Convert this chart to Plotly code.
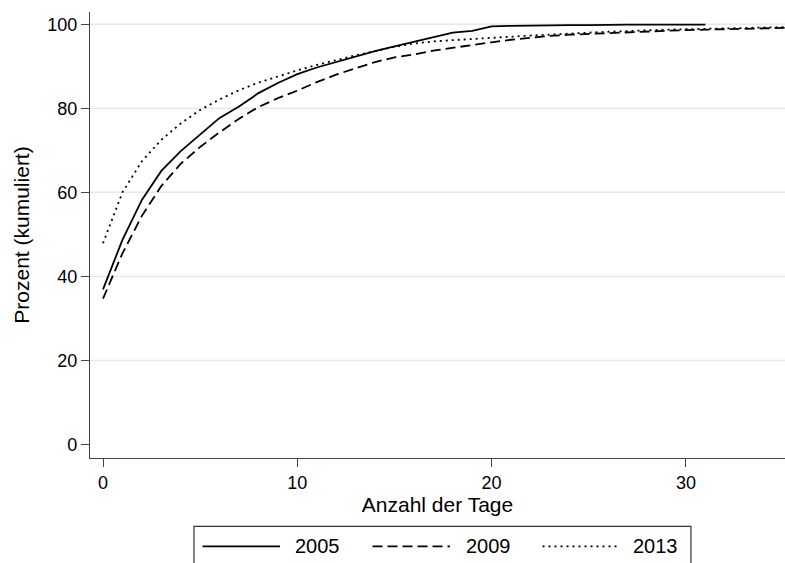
import plotly.graph_objects as go

# ---- data ----
days_2005 = list(range(0, 32))
pct_2005 = [36.9, 48.7, 58.2, 65.1, 69.8, 73.7, 77.7, 80.4, 83.6, 86.0,
            88.1, 89.7, 91.0, 92.2, 93.6, 94.7, 95.8, 96.9, 98.0, 98.4,
            99.5, 99.6, 99.7, 99.8, 99.8, 99.8, 99.9, 99.9, 99.9, 99.9,
            99.9, 99.9]

days_2009 = list(range(0, 37))
pct_2009 = [34.7, 45.5, 54.4, 61.5, 66.8, 70.8, 74.3, 77.5, 80.3, 82.4,
            84.2, 86.2, 88.0, 89.5, 91.0, 92.1, 92.8, 93.7, 94.4, 95.1,
            95.7, 96.3, 96.8, 97.2, 97.5, 97.7, 97.9, 98.1, 98.3, 98.4,
            98.6, 98.7, 98.8, 98.9, 99.0, 99.1, 99.2]

days_2013 = list(range(0, 37))
pct_2013 = [47.9, 60.0, 67.4, 72.5, 76.4, 79.6, 82.1, 84.3, 86.1, 87.6,
            89.0, 90.3, 91.5, 92.6, 93.6, 94.6, 95.4, 95.9, 96.2, 96.5,
            96.7, 97.0, 97.3, 97.5, 97.8, 98.0, 98.2, 98.4, 98.5, 98.7,
            98.8, 98.9, 99.0, 99.1, 99.2, 99.3, 99.4]

series_names = ["2005", "2009", "2013"]
x_ticks = [0, 10, 20, 30]
y_ticks = [0, 20, 40, 60, 80, 100]
grid_vals = [20, 40, 60, 80, 100]

x_title = "Anzahl der Tage"
y_title = "Prozent (kumuliert)"

# ---- styling ----
FONT = "Liberation Sans, Arial, Helvetica, sans-serif"
dashes = ["solid", "10px,5px", "2px,4px"]
LW = 1.8

fig = go.Figure()
for name, xs, ys, d in zip(series_names,
                           [days_2005, days_2009, days_2013],
                           [pct_2005, pct_2009, pct_2013],
                           dashes):
    fig.add_trace(go.Scatter(x=xs, y=ys, mode="lines", name=name,
                             line=dict(color="black", width=LW, dash=d),
                             showlegend=False))

shapes = []
# horizontal grid lines
for g in grid_vals:
    shapes.append(dict(type="line", xref="paper", yref="y", x0=0, x1=1,
                       y0=g, y1=g, line=dict(color="#e8e8e8", width=1.5),
                       layer="below"))

# manual legend (box + samples)
leg_y = -0.198
shapes.append(dict(type="rect", xref="paper", yref="paper",
                   x0=0.1496, x1=0.8647, y0=-0.26, y1=-0.1532,
                   line=dict(color="#333333", width=1.2)))
sample_pos = [(0.1619, 0.2734), (0.4065, 0.5180), (0.6511, 0.7590)]
text_pos = [0.2928, 0.5381, 0.7784]
annotations = []
for (a, b), d, tx, name in zip(sample_pos, dashes, text_pos, series_names):
    shapes.append(dict(type="line", xref="paper", yref="paper",
                       x0=a, x1=b, y0=leg_y, y1=leg_y,
                       line=dict(color="black", width=LW, dash=d)))
    annotations.append(dict(xref="paper", yref="paper", x=tx, y=leg_y,
                            text=name, showarrow=False, xanchor="left",
                            yanchor="middle",
                            font=dict(family=FONT, size=20, color="black")))

fig.update_layout(
    width=785, height=563, autosize=False,
    margin=dict(l=90, r=0, t=12, b=105, pad=0),
    paper_bgcolor="white", plot_bgcolor="white",
    font=dict(family=FONT, color="black"),
    shapes=shapes, annotations=annotations,
    xaxis=dict(range=[-0.67, 35.1], tickvals=x_ticks, ticks="outside",
               ticklen=8, tickwidth=1.2, tickcolor="#444444",
               showline=True, linecolor="#444444", linewidth=1.3,
               showgrid=False, zeroline=False,
               tickfont=dict(size=18, family=FONT),
               title=dict(text=x_title, font=dict(size=21, family=FONT),
                          standoff=2)),
    yaxis=dict(range=[-3.2, 102.9], tickvals=y_ticks, ticks="outside",
               ticklen=8, tickwidth=1.2, tickcolor="#444444",
               showline=True, linecolor="#444444", linewidth=1.3,
               showgrid=False, zeroline=False,
               tickfont=dict(size=18, family=FONT),
               title=dict(text=y_title, font=dict(size=21, family=FONT),
                          standoff=11)),
)

fig.write_html("out.html",
               config={"displayModeBar": False},
               post_script="document.body.style.margin='0';"
                           "document.body.style.overflow='hidden';")
